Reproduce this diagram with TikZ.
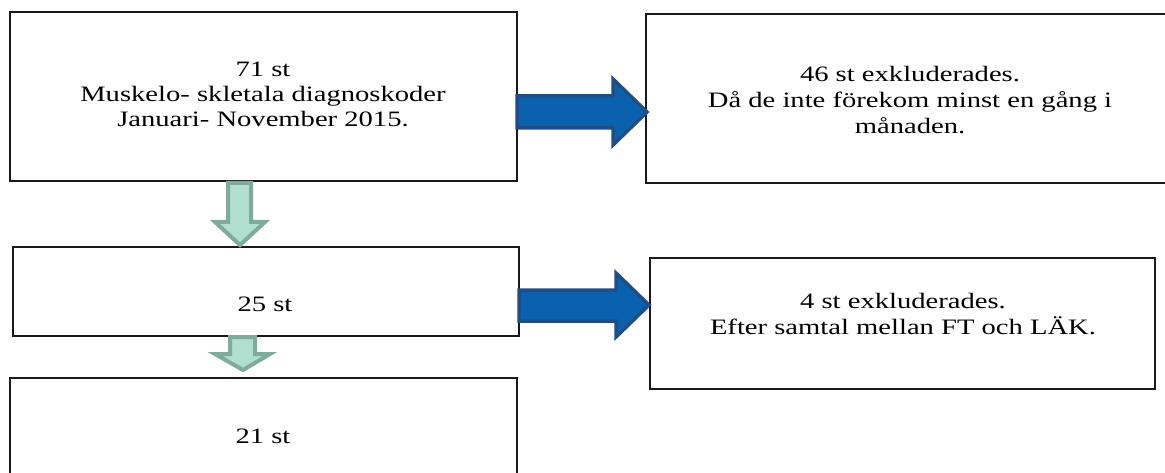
\documentclass[tikz,border=0pt]{standalone}
\usepackage{fontspec}
\setmainfont{Liberation Serif}[FakeStretch=1.30]
\definecolor{blueFill}{HTML}{0A62AE}
\definecolor{blueLine}{HTML}{1F4E86}
\definecolor{greenFill}{HTML}{B0DFD0}
\definecolor{greenLine}{HTML}{80AA9B}
\begin{document}
\begin{tikzpicture}[x=1pt,y=-1pt,
  box/.style={draw=black!90,line width=1.6pt,rectangle,inner sep=0pt},
  txt/.style={inner sep=0pt,align=center,anchor=base,font=\fontsize{22}{25}\selectfont},
  wide/.style={font=\fontsize{22}{26}\selectfont},
  bluearrow/.style={fill=blueFill,draw=blueLine,line width=3.5pt,line join=miter},
  greenarrow/.style={fill=greenFill,draw=greenLine,line width=4pt,line join=miter}]
\useasboundingbox (0,0) rectangle (1165,473);
\begin{scope}
\clip (0,0) rectangle (1165,473);
% boxes
\node[box,minimum width=507pt,minimum height=169pt] (b1) at (263.5,96.5) {};
\node[box,minimum width=506pt,minimum height=89pt] (b2) at (266,291.5) {};
\node[box,minimum width=507pt,minimum height=110pt] (b3) at (263.5,433) {};
\node[box,minimum width=530pt,minimum height=169pt] (r1) at (911,98.5) {};
\node[box,minimum width=505pt,minimum height=131pt] (r2) at (902.5,323.5) {};
% texts (base anchor = baseline of the last line)
\node[txt] (t1) at (263,127) {71 st\\Muskelo- skletala diagnoskoder\\Januari- November 2015.};
\node[txt] (t2) at (265,311) {25 st};
\node[txt] (t3) at (263,443) {21 st};
\node[txt,wide] (t4) at (910,134) {46 st exkluderades.\\Då de inte förekom minst en gång i\\månaden.};
\node[txt,wide] (t5) at (903,334) {4 st exkluderades.\\Efter samtal mellan FT och LÄK.};
% blue block arrows
\draw[bluearrow] (517,96) -- (613,96) -- (613,79) -- (647,112) -- (613,145) -- (613,128) -- (517,128) -- cycle;
\draw[bluearrow] (519,290) -- (616,290) -- (616,273) -- (649,305) -- (616,337) -- (616,321) -- (519,321) -- cycle;
% green block arrows
\draw[greenarrow] (228,183) -- (251,183) -- (251,222) -- (265,222) -- (240,245) -- (215,222) -- (228,222) -- cycle;
\draw[greenarrow] (230,337) -- (255,337) -- (255,354) -- (270,354) -- (243,370) -- (215,354) -- (230,354) -- cycle;
\end{scope}
\end{tikzpicture}
\end{document}
